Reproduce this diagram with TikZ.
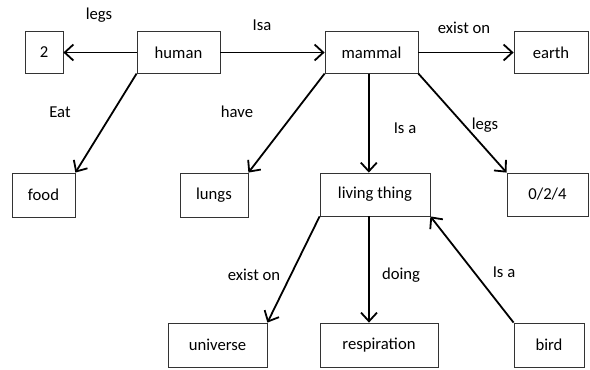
\documentclass[tikz,border=0pt]{standalone}
\usepackage{fontspec}
\setmainfont{Carlito}
\usetikzlibrary{arrows.meta}

\begin{document}
\begin{tikzpicture}[x=0.75pt,y=-0.75pt,>={Straight Barb[length=6.5pt,width=12pt]},
  box/.style={draw=black!80,line width=0.6pt,inner sep=0pt,minimum height=31pt,font=\fontsize{12.5}{14}\selectfont},
  lbl/.style={font=\fontsize{12.5}{14}\selectfont,inner sep=1pt},
  link/.style={->,line width=1.35pt}]
  \useasboundingbox (0,0) rectangle (590,369);
  % boxes
  \node[box,minimum width=28.5pt]  (two)      at (44,52.5)   {2};
  \node[box,minimum width=62.25pt] (human)    at (178.5,52.5) {human};
  \node[box,minimum width=69.75pt] (mammal)   at (371.5,52.5) {mammal};
  \node[box,minimum width=55.5pt]  (earth)    at (551,52.5)  {earth};
  \node[box,minimum width=47.25pt,minimum height=33pt] (food)  at (43.5,195) {food};
  \node[box,minimum width=51pt,minimum height=33pt]    (lungs) at (214,195)  {lungs};
  \node[box,minimum width=82.5pt,minimum height=32.25pt] (living) at (375,194.5) {living thing};
  \node[box,minimum width=60.75pt,minimum height=32.25pt] (zero)  at (547.5,194.5) {0/2/4};
  \node[box,minimum width=74.25pt,minimum height=33pt] (universe) at (217.5,345) {universe};
  \node[box,minimum width=88.5pt,minimum height=33pt]  (resp)     at (379,345)   {respiration};
  \node[box,minimum width=52.5pt,minimum height=33pt]  (bird)     at (549,345)   {bird};
  % links
  \draw[link] (human.west) -- (two.east);
  \draw[link] (human.east) -- (mammal.west);
  \draw[link] (mammal.east) -- (earth.west);
  \draw[link] (human.south west) -- (food.north east);
  \draw[link] (mammal.south west) -- (lungs.north east);
  \draw[link] ([xshift=-2pt]mammal.south) -- ([xshift=-2pt]mammal.south |- living.north);
  \draw[link] (mammal.south east) -- (zero.north west);
  \draw[link] (living.south west) -- (universe.north east);
  \draw[link] ([xshift=-4.5pt]living.south) -- ([xshift=-4.5pt]living.south |- resp.north);
  \draw[link] (bird.north west) -- (living.south east);
  % labels
  \node[lbl] (l-legs)   at (99,15)   {legs};
  \node[lbl] (l-isa)    at (262,25)  {Isa};
  \node[lbl] (l-earth)  at (464,28)  {exist on};
  \node[lbl] (l-eat)    at (60,112)  {Eat};
  \node[lbl] (l-have)   at (237,112) {have};
  \node[lbl] (l-isa2)   at (405,128) {Is a};
  \node[lbl] (l-legs2)  at (485,125) {legs};
  \node[lbl] (l-univ)   at (254,275) {exist on};
  \node[lbl] (l-doing)  at (401,275) {doing};
  \node[lbl] (l-isa3)   at (504,272) {Is a};
\end{tikzpicture}
\end{document}
